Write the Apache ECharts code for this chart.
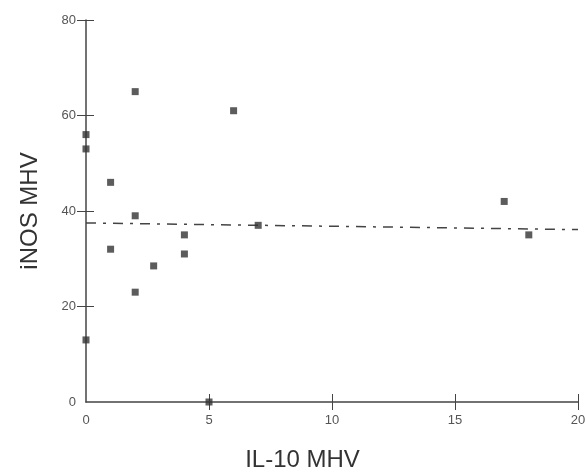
<!DOCTYPE html>
<html>
<head>
<meta charset="utf-8">
<script src="https://cdn.jsdelivr.net/npm/echarts@6/dist/echarts.min.js"></script>
<style>
  html, body { margin: 0; padding: 0; background: #fff; }
  #chart { width: 585px; height: 473px; }
</style>
</head>
<body>
<div id="chart"></div>
<script>
// IL-10 MHV vs iNOS MHV
const il10 = [0, 0, 0, 1, 1, 2, 2, 2, 2.75, 4, 4, 5, 6, 7, 17, 18];
const inos = [56, 53, 13, 46, 32, 65, 39, 23, 28.5, 35, 31, 0, 61, 37, 42, 35];
const fitX = [0, 20];
const fitY = [37.5, 36.1];
const xTicks = [0, 5, 10, 15, 20];
const yTicks = [0, 20, 40, 60, 80];

const points = il10.map((x, i) => [x, inos[i]]);
const fitLine = fitX.map((x, i) => [x, fitY[i]]);

const ink = '#444';
const labelStyle = { color: '#555', fontSize: 13, fontFamily: 'Liberation Sans, Arial, sans-serif' };
const titleStyle = { color: '#333', fontSize: 24, fontFamily: 'Liberation Sans, Arial, sans-serif' };

const chart = echarts.init(document.getElementById('chart'), null, { renderer: 'canvas' });

const xBase = { type: 'value', min: 0, max: 20, interval: 5, splitLine: { show: false }, gridIndex: 0, position: 'bottom' };
const yBase = { type: 'value', min: 0, max: 80, interval: 20, splitLine: { show: false }, gridIndex: 0, position: 'left' };

chart.setOption({
  animation: false,
  grid: { left: 86, right: 7, top: 20, bottom: 71, outerBoundsMode: 'none', containLabel: false },
  xAxis: [
    Object.assign({}, xBase, {
      name: 'IL-10 MHV',
      nameLocation: 'middle',
      nameGap: 46,
      nameTextStyle: Object.assign({ padding: [0, 59, 0, 0] }, titleStyle),
      axisLine: { show: true, lineStyle: { color: ink, width: 1.5 } },
      axisTick: { show: true, inside: false, length: 8, lineStyle: { color: ink }, customValues: [5, 10, 15, 20] },
      axisLabel: Object.assign({ margin: 12, customValues: xTicks, showMaxLabel: true }, labelStyle)
    }),
    Object.assign({}, xBase, {
      axisLine: { show: false },
      axisTick: { show: true, inside: true, length: 8, lineStyle: { color: ink }, customValues: [5, 10, 15, 20] },
      axisLabel: { show: false }
    })
  ],
  yAxis: [
    Object.assign({}, yBase, {
      name: 'iNOS MHV',
      nameLocation: 'middle',
      nameGap: 44,
      nameTextStyle: titleStyle,
      axisLine: { show: true, lineStyle: { color: ink, width: 1.5 } },
      axisTick: { show: true, inside: false, length: 9, lineStyle: { color: ink }, customValues: [20, 40, 60, 80] },
      axisLabel: Object.assign({ margin: 10, customValues: yTicks }, labelStyle)
    }),
    Object.assign({}, yBase, {
      axisLine: { show: false },
      axisTick: { show: true, inside: true, length: 8, lineStyle: { color: ink }, customValues: [20, 40, 60, 80] },
      axisLabel: { show: false }
    })
  ],
  series: [
    {
      type: 'line',
      data: fitLine,
      showSymbol: false,
      silent: true,
      lineStyle: { color: ink, width: 1.5, type: [10, 7, 3, 7] },
      z: 1
    },
    {
      type: 'scatter',
      data: points,
      symbol: 'rect',
      symbolSize: 7,
      itemStyle: { color: '#333' },
      z: 3
    }
  ]
});
</script>
</body>
</html>
